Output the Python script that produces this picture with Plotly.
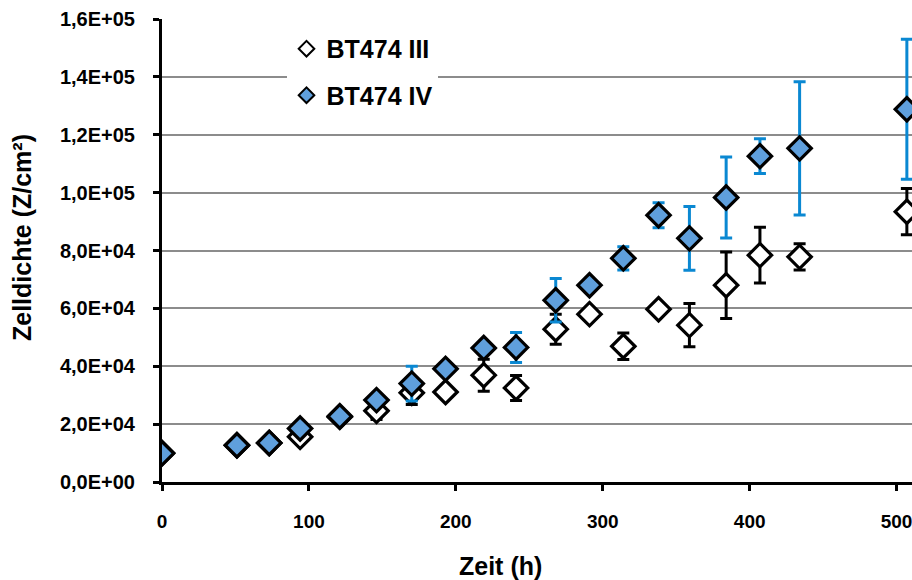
import plotly.graph_objects as go

# Zeitpunkte der Zählungen (h)
zeit = [0, 51, 73, 94, 121, 146, 170, 193, 219, 241, 268, 291, 314, 338, 359, 384, 407, 434, 507]

# BT474 III: Zelldichte (Z/cm²) und Standardabweichung
bt474_iii = [10000, 12700, 13500, 15600, 22500, 24600, 30800, 31100, 36900, 32500,
             52800, 58000, 46900, 59700, 54200, 68000, 78400, 77800, 93400]
bt474_iii_sd = [0, 0, 0, 1000, 0, 3000, 4000, 0, 5500, 4300,
                5200, 0, 4600, 0, 7500, 11500, 9600, 4500, 8000]

# BT474 IV: Zelldichte (Z/cm²) und Standardabweichung
bt474_iv = [9900, 12700, 13500, 18500, 22700, 28300, 34000, 39100, 46300, 46500,
            62800, 68000, 77300, 92200, 84200, 98300, 112600, 115300, 128800]
bt474_iv_sd = [0, 0, 0, 0, 0, 0, 6000, 0, 0, 5200,
               7500, 0, 4000, 4300, 11000, 14000, 6000, 23000, 24200]

# Achsenbeschriftungen
y_tickvals = [0, 20000, 40000, 60000, 80000, 100000, 120000, 140000, 160000]
y_ticktext = ["0,0E+00", "2,0E+04", "4,0E+04", "6,0E+04", "8,0E+04",
              "1,0E+05", "1,2E+05", "1,4E+05", "1,6E+05"]
x_tickvals = [0, 100, 200, 300, 400, 500]

FONT = "Liberation Sans, Arial, sans-serif"
BLUE_FILL = "#5f9fdc"
BLUE_ERR = "#0a88d2"

fig = go.Figure()

fig.add_trace(go.Scatter(
    x=zeit, y=bt474_iii, name="BT474 III", mode="markers",
    legendgroup="iii",
    marker=dict(symbol="diamond", size=18, color="white",
                line=dict(color="black", width=3.2)),
    error_y=dict(type="data", array=bt474_iii_sd, visible=True,
                 color="black", thickness=3, width=6),
))

fig.add_trace(go.Scatter(
    x=zeit, y=bt474_iv, name="BT474 IV", mode="markers",
    legendgroup="iv",
    marker=dict(symbol="diamond", size=18, color=BLUE_FILL,
                line=dict(color="black", width=3.2)),
    error_y=dict(type="data", array=bt474_iv_sd, visible=True,
                 color=BLUE_ERR, thickness=3, width=6),
))

fig.update_layout(
    width=912, height=580,
    margin=dict(l=162, r=0, t=19, b=98),
    paper_bgcolor="white", plot_bgcolor="white",
    font=dict(family=FONT, color="black"),
    showlegend=True,
    legend=dict(
        x=0.166, y=0.985, xanchor="left", yanchor="top",
        bgcolor="white", borderwidth=0,
        font=dict(family=FONT, size=25, weight="bold", color="black"),
        itemsizing="constant", traceorder="grouped", tracegroupgap=11,
    ),
    xaxis=dict(
        range=[0, 510.5], tickvals=x_tickvals,
        showgrid=False, zeroline=False,
        showline=True, linecolor="black", linewidth=3,
        ticks="outside", ticklen=6, tickwidth=3, tickcolor="black",
        ticklabelstandoff=14, ticklabeloverflow="allow",
        tickfont=dict(family=FONT, size=19, weight="bold", color="black"),
    ),
    yaxis=dict(
        range=[0, 160000], tickvals=y_tickvals, ticktext=y_ticktext,
        showgrid=True, gridcolor="#8c8c8c", gridwidth=2,
        zeroline=False,
        showline=True, linecolor="black", linewidth=3,
        ticks="outside", ticklen=6, tickwidth=3, tickcolor="black",
        ticklabelstandoff=14,
        tickfont=dict(family=FONT, size=20, weight="bold", color="black"),
    ),
    annotations=[
        dict(text="Zeit (h)", xref="paper", yref="paper",
             x=(500.5 - 162) / 750, y=-0.182, xanchor="center", yanchor="middle",
             showarrow=False,
             font=dict(family=FONT, size=25, weight="bold", color="black")),
        dict(text="Zelldichte (Z/cm²)", xref="paper", yref="paper",
             x=(22 - 162) / 750, y=(482 - 238) / 463, xanchor="center", yanchor="middle",
             textangle=-90, showarrow=False,
             font=dict(family=FONT, size=25, weight="bold", color="black")),
    ],
)

fig.write_html("out.html")
